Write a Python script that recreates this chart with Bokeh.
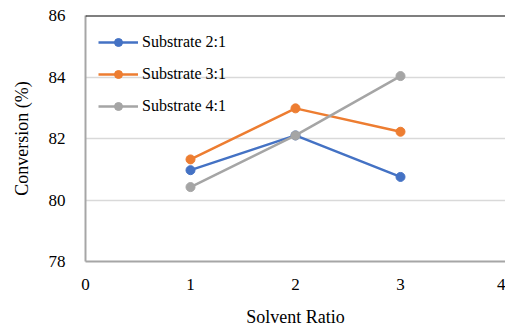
from bokeh.plotting import figure
from bokeh.models import Span, Legend, LegendItem, FixedTicker
from bokeh.embed import file_html
from bokeh.resources import INLINE

x = [1, 2, 3]
s21 = [80.97, 82.1, 80.75]
s31 = [81.32, 82.98, 82.22]
s41 = [80.42, 82.1, 84.03]
names = ["Substrate 2:1", "Substrate 3:1", "Substrate 4:1"]
colors = ["#4472C4", "#ED7D31", "#A5A5A5"]
xticks = [0, 1, 2, 3, 4]
yticks = [78, 80, 82, 84, 86]

FONT = "Liberation Serif"

p = figure(width=505, height=329, x_range=(0, 4), y_range=(78, 86),
           output_backend="svg", toolbar_location=None,
           min_border_left=85, min_border_right=0, min_border_top=15,
           min_border_bottom=10)
p.outline_line_color = None
p.background_fill_color = "white"
p.border_fill_color = "white"

for ax in (p.xaxis[0], p.yaxis[0]):
    ax.major_tick_line_color = None
    ax.minor_tick_line_color = None
    ax.axis_line_color = "#A6A6A6"
    ax.axis_line_width = 2
    ax.major_label_text_font = FONT
    ax.major_label_text_color = "#000000"
    ax.major_label_text_font_size = "17px"
    ax.axis_label_text_font = FONT
    ax.axis_label_text_font_size = "18px"
    ax.axis_label_text_font_style = "normal"
    ax.axis_label_text_color = "#000000"

p.xaxis.ticker = FixedTicker(ticks=xticks)
p.yaxis.ticker = FixedTicker(ticks=yticks)
p.xaxis.major_label_standoff = 11
p.yaxis.major_label_standoff = 14
p.yaxis.axis_label = "Conversion (%)"
p.yaxis.axis_label_standoff = 14
p.xaxis.axis_label = "Solvent Ratio"
p.xaxis.axis_label_standoff = 14

p.xgrid.grid_line_color = None
p.ygrid.grid_line_color = "#D9D9D9"
p.ygrid.grid_line_width = 1.5

p.add_layout(Span(location=86, dimension="width", line_color="#000000", line_width=2))

items = []
for ys, name, c in zip([s21, s31, s41], names, colors):
    r1 = p.line(x, ys, line_color=c, line_width=2.5)
    r2 = p.scatter(x, ys, size=9, fill_color=c, line_color=c)
    items.append(LegendItem(label=name, renderers=[r1, r2]))

legend = Legend(items=items, location=(13, 145), margin=0, padding=0,
                spacing=12, glyph_width=40, glyph_height=20, label_height=20,
                label_standoff=4, label_text_font=FONT,
                label_text_font_size="16px", label_text_color="#000000",
                background_fill_alpha=0, border_line_alpha=0)
p.add_layout(legend)

open("out.html", "w").write(file_html(p, INLINE))
